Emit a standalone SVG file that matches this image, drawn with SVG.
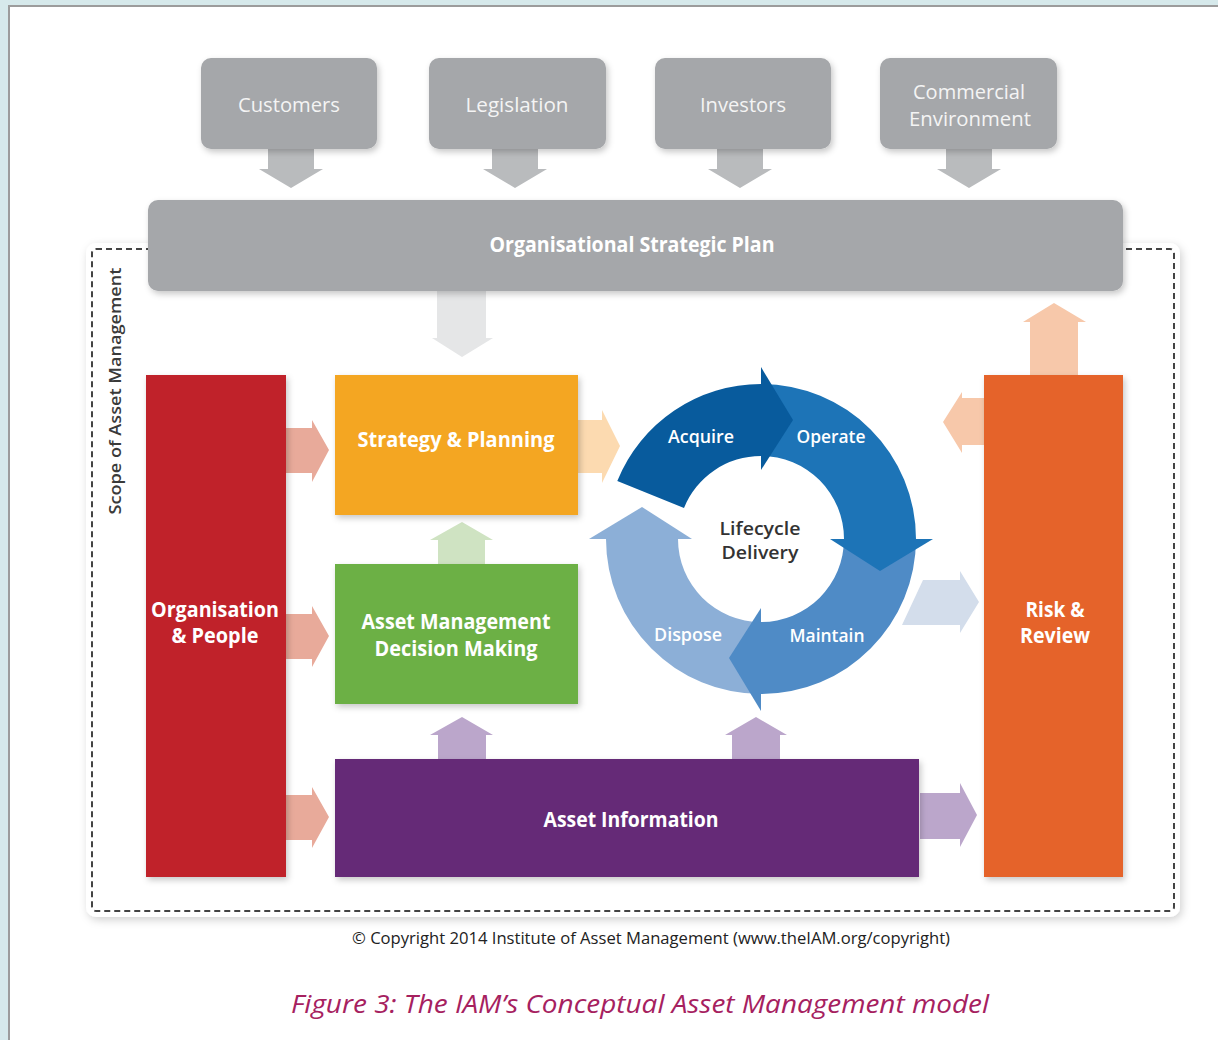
<svg xmlns="http://www.w3.org/2000/svg" width="1218" height="1040" viewBox="0 0 1218 1040">
  <defs>
    <filter id="shadow" x="-10%" y="-10%" width="130%" height="130%">
      <feDropShadow dx="2" dy="3" stdDeviation="3" flood-color="#000" flood-opacity="0.22"/>
    </filter>
    <filter id="panelShadow" x="-5%" y="-5%" width="110%" height="110%">
      <feDropShadow dx="2" dy="3" stdDeviation="4" flood-color="#000" flood-opacity="0.18"/>
    </filter>
  </defs>
  <style>
    text { font-family: "Open Sans", "Noto Sans", "Liberation Sans", sans-serif; }
    .ext { fill: #a5a7aa; }
    .extText { fill: #f4f4f4; font-size: 20px; font-weight: 400; text-anchor: middle; }
    .box { filter: url(#shadow); }
    .label { fill: #ffffff; font-size: 21px; font-weight: 700; text-anchor: middle; }
    .ring { fill: #ffffff; font-size: 18px; font-weight: 600; text-anchor: middle; }
    .centre { fill: #333333; font-size: 18px; font-weight: 600; text-anchor: middle; }
    .arrGrey { fill: #b9bbbd; }
  </style>

  <!-- page and surround -->
  <rect x="0" y="0" width="1218" height="1040" fill="#d6e9eb"/>
  <rect x="8" y="5" width="1212" height="1040" fill="#ffffff"/>
  <path d="M 9 1040 L 9 6 L 1218 6" fill="none" stroke="#9c9c9c" stroke-width="2"/>

  <!-- scope frame -->
  <g id="scope">
    <rect x="86" y="243" width="1094" height="674" rx="10" fill="#ffffff" filter="url(#panelShadow)"/>
    <rect x="92" y="249" width="1082" height="662" rx="4" fill="none" stroke="#444444" stroke-width="2" stroke-dasharray="6 4"/>
    <text transform="translate(121,391) rotate(-90)" text-anchor="middle" font-size="17" font-weight="600" fill="#3a3a3a" textLength="247" lengthAdjust="spacingAndGlyphs">Scope of Asset Management</text>
  </g>

  <!-- connectors -->
  <g id="connectors">
    <!-- external drivers into the strategic plan -->
    <polygon class="arrGrey" points="268,149 314,149 314,169 323,169 291,188 259,169 268,169"/>
    <polygon class="arrGrey" points="492,149 538,149 538,169 547,169 515,188 483,169 492,169"/>
    <polygon class="arrGrey" points="717,149 763,149 763,169 772,169 740,188 708,169 717,169"/>
    <polygon class="arrGrey" points="946,149 992,149 992,169 1001,169 969,188 937,169 946,169"/>
    <!-- plan down to strategy -->
    <polygon fill="#e5e6e7" points="437,291 486,291 486,338 493,338 462,357 432,338 437,338"/>
    <!-- organisation & people to the right -->
    <polygon fill="#e8aa9a" points="286,428 312,428 312,420 329,450 312,482 312,473 286,473"/>
    <polygon fill="#e8aa9a" points="286,614 312,614 312,606 329,636 312,667 312,659 286,659"/>
    <polygon fill="#e8aa9a" points="286,795 312,795 312,787 329,817 312,848 312,840 286,840"/>
    <!-- strategy to lifecycle -->
    <polygon fill="#fcdab0" points="578,420 602,420 602,410 620,446 602,483 602,473 578,473"/>
    <!-- decision making up to strategy -->
    <polygon fill="#cfe3c2" points="438,564 485,564 485,540 493,540 462,522 430,540 438,540"/>
    <!-- asset information up -->
    <polygon fill="#bba6cb" points="438,759 486,759 486,735 493,735 462,717 430,735 438,735"/>
    <polygon fill="#bba6cb" points="732,759 780,759 780,735 787,735 756,717 725,735 732,735"/>
    <!-- asset information to risk -->
    <polygon fill="#bba6cb" points="920,793 960,793 960,783 977,815 960,847 960,839 920,839"/>
    <!-- lifecycle to risk -->
    <polygon fill="#d3ddeb" points="923,580 960,580 960,571 979,602 960,633 960,625 902,625"/>
    <!-- risk back to lifecycle and up to plan -->
    <polygon fill="#f7c8aa" points="984,398 962,398 962,392 943,422 962,453 962,445 984,445"/>
    <polygon fill="#f7c8aa" points="1030,375 1078,375 1078,322 1086,322 1054,303 1023,322 1030,322"/>
  </g>

  <!-- external drivers -->
  <g id="customers">
    <rect class="ext box" x="201" y="58" width="176" height="91" rx="10"/>
    <text class="extText" x="289" y="112" textLength="102" lengthAdjust="spacingAndGlyphs">Customers</text>
  </g>
  <g id="legislation">
    <rect class="ext box" x="429" y="58" width="177" height="91" rx="10"/>
    <text class="extText" x="517" y="112" textLength="103" lengthAdjust="spacingAndGlyphs">Legislation</text>
  </g>
  <g id="investors">
    <rect class="ext box" x="655" y="58" width="176" height="91" rx="10"/>
    <text class="extText" x="743" y="112" textLength="86" lengthAdjust="spacingAndGlyphs">Investors</text>
  </g>
  <g id="commercial-environment">
    <rect class="ext box" x="880" y="58" width="177" height="91" rx="10"/>
    <text class="extText" x="969" y="99" textLength="112" lengthAdjust="spacingAndGlyphs">Commercial</text>
    <text class="extText" x="970" y="126" textLength="122" lengthAdjust="spacingAndGlyphs">Environment</text>
  </g>

  <g id="strategic-plan">
    <rect class="ext box" x="148" y="200" width="975" height="91" rx="10"/>
    <text class="label" x="632" y="252" font-size="20" textLength="285" lengthAdjust="spacingAndGlyphs">Organisational Strategic Plan</text>
  </g>

  <g id="organisation-people">
    <rect class="box" x="146" y="375" width="140" height="502" fill="#c0232a"/>
    <text class="label" x="215" y="617" textLength="128" lengthAdjust="spacingAndGlyphs">Organisation</text>
    <text class="label" x="215" y="643" textLength="87" lengthAdjust="spacingAndGlyphs">&amp; People</text>
  </g>

  <g id="strategy-planning">
    <rect class="box" x="335" y="375" width="243" height="140" fill="#f4a622"/>
    <text class="label" x="456" y="447" textLength="197" lengthAdjust="spacingAndGlyphs">Strategy &amp; Planning</text>
  </g>

  <g id="decision-making">
    <rect class="box" x="335" y="564" width="243" height="140" fill="#6cb044"/>
    <text class="label" x="456" y="629" font-size="19" textLength="189" lengthAdjust="spacingAndGlyphs">Asset Management</text>
    <text class="label" x="456" y="656" font-size="19" textLength="163" lengthAdjust="spacingAndGlyphs">Decision Making</text>
  </g>

  <g id="asset-information">
    <rect class="box" x="335" y="759" width="584" height="118" fill="#652a77"/>
    <text class="label" x="631" y="827" textLength="175" lengthAdjust="spacingAndGlyphs">Asset Information</text>
  </g>

  <g id="risk-review">
    <rect class="box" x="984" y="375" width="139" height="502" fill="#e5642a"/>
    <text class="label" x="1055" y="617" textLength="59" lengthAdjust="spacingAndGlyphs">Risk &amp;</text>
    <text class="label" x="1055" y="643" textLength="70" lengthAdjust="spacingAndGlyphs">Review</text>
  </g>

  <!-- lifecycle ring: four clockwise arrow segments around (761,539) -->
  <g id="lifecycle-delivery">
    <g id="dispose">
      <path fill="#8cafd7" d="M 761 694 A 155 155 0 0 1 606 539 L 678 539 A 83 83 0 0 0 761 622 Z"/>
      <polygon fill="#8cafd7" points="589,539 692,539 642,507"/>
    </g>
    <g id="maintain">
      <path fill="#4f8bc6" d="M 916 539 A 155 155 0 0 1 761 694 L 761 622 A 83 83 0 0 0 844 539 Z"/>
      <polygon fill="#4f8bc6" points="761,711 761,608 729,658"/>
    </g>
    <g id="operate">
      <path fill="#1d74b7" d="M 761 384 A 155 155 0 0 1 916 539 L 844 539 A 83 83 0 0 0 761 456 Z"/>
      <polygon fill="#1d74b7" points="933,539 830,539 880,571"/>
    </g>
    <g id="acquire">
      <path fill="#085b9d" d="M 617.3 480.9 A 155 155 0 0 1 761 384 L 761 456 A 83 83 0 0 0 684 507.9 Z"/>
      <polygon fill="#085b9d" points="761,367 761,470 793,420"/>
    </g>
    <text class="ring" x="701" y="443" textLength="66" lengthAdjust="spacingAndGlyphs">Acquire</text>
    <text class="ring" x="831" y="443" textLength="69" lengthAdjust="spacingAndGlyphs">Operate</text>
    <text class="ring" x="827" y="642" textLength="75" lengthAdjust="spacingAndGlyphs">Maintain</text>
    <text class="ring" x="688" y="641" textLength="68" lengthAdjust="spacingAndGlyphs" fill="#f2f6fb">Dispose</text>
    <text class="centre" x="760" y="535" textLength="81" lengthAdjust="spacingAndGlyphs">Lifecycle</text>
    <text class="centre" x="760" y="559" textLength="77" lengthAdjust="spacingAndGlyphs">Delivery</text>
  </g>

  <!-- footer -->
  <text x="651" y="944" text-anchor="middle" font-size="16" fill="#222222" font-family="'Liberation Sans Narrow', 'Open Sans', sans-serif" textLength="598" lengthAdjust="spacingAndGlyphs">© Copyright 2014 Institute of Asset Management (www.theIAM.org/copyright)</text>
  <text x="640" y="1013" text-anchor="middle" font-size="26" font-style="italic" fill="#a6215f" textLength="698" lengthAdjust="spacingAndGlyphs">Figure 3: The IAM’s Conceptual Asset Management model</text>
</svg>
